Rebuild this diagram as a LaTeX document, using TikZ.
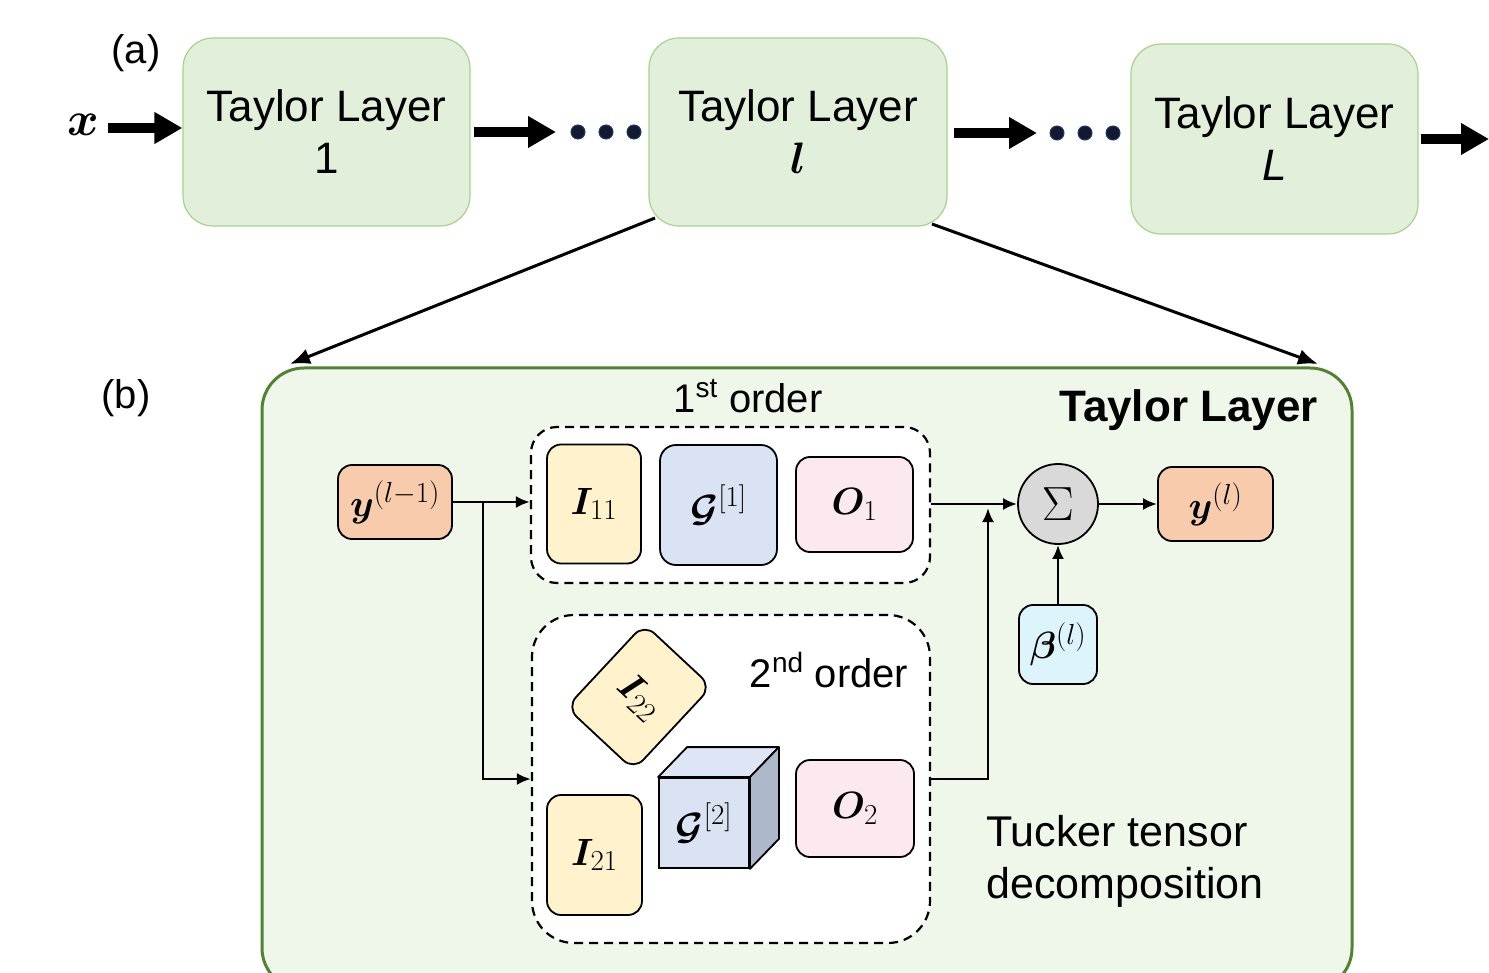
\RequirePackage{fix-cm}
\documentclass[tikz,border=0pt]{standalone}
\usepackage{amsmath,bm}
\usepackage[no-math]{fontspec}
\setmainfont{Liberation Sans}
\usetikzlibrary{arrows.meta,calc}
\DeclareMathSizes{38}{38}{29}{22}
\DeclareMathSizes{44}{44}{32}{24}
\DeclareMathSizes{48}{48}{34}{26}
\definecolor{topfill}{RGB}{226,239,218}
\definecolor{topdraw}{RGB}{169,209,142}
\definecolor{bigfill}{RGB}{239,246,234}
\definecolor{bigdraw}{RGB}{84,130,53}
\definecolor{yel}{RGB}{255,242,204}
\definecolor{blu}{RGB}{218,227,243}
\definecolor{bluside}{RGB}{173,185,202}
\definecolor{blutop}{RGB}{222,230,245}
\definecolor{pnk}{RGB}{252,232,239}
\definecolor{org}{RGB}{248,203,173}
\definecolor{cyn}{RGB}{222,244,252}
\definecolor{gry}{RGB}{217,217,217}
\definecolor{dotc}{RGB}{20,25,50}
\definecolor{dotd}{RGB}{31,56,100}
\begin{document}
\begin{tikzpicture}[x=1pt,y=-1pt,
  topbox/.style={draw=topdraw, line width=1.2pt, fill=topfill, rounded corners=30pt,
    align=center, font=\fontsize{44}{52}\selectfont, inner sep=0pt},
  bigbox/.style={draw=bigdraw, line width=3pt, fill=bigfill, rounded corners=42pt, inner sep=0pt},
  dashbox/.style={draw=black, dashed, dash pattern=on 9pt off 6pt, line width=2.2pt, fill=white, inner sep=0pt},
  blk/.style={draw=black, line width=1.8pt, rounded corners=14pt, inner sep=0pt,
    font=\fontsize{38}{44}\selectfont},
  lbl/.style={inner sep=0pt, font=\fontsize{40}{48}\selectfont},
  bigarrow/.style={line width=10pt, -{Triangle[length=28pt,width=30pt]}},
  diagarrow/.style={line width=3pt, -{Latex[length=20pt,width=16pt]}},
  connarrow/.style={line width=2.6pt, -{Latex[length=14pt,width=12pt]}},
  dotstyle/.style={fill=dotc, draw=dotd, line width=1pt}
]
\useasboundingbox (0,0) rectangle (1489,973);
\clip (0,0) rectangle (1489,973);

% ---------- (a) ----------
\node[lbl] (la) at (136,53) {(a)};
\node[inner sep=0pt, font=\fontsize{48}{54}\selectfont] (xin) at (83,125) {$\bm{x}$};

\node[topbox, minimum width=287pt, minimum height=188pt] (t1) at (326.5,132) {Taylor Layer\\1};
\node[topbox, minimum width=298pt, minimum height=188pt] (tl) at (798,132) {Taylor Layer\\$\bm{l}$};
\node[topbox, minimum width=287pt, minimum height=190pt] (tL) at (1274.5,139) {Taylor Layer\\\textit{L}};

\coordinate (xs) at (108,128);
\coordinate (d1) at (606,132);
\coordinate (d2) at (1085,133);
\coordinate (outL) at (1489,139);

\draw[bigarrow] (xs) -- (xs -| t1.west);
\draw[bigarrow] ([xshift=3pt]t1.east |- d1) -- ([xshift=-50pt]d1);
\draw[bigarrow] ([xshift=6pt]tl.east |- d2) -- ([xshift=-48pt]d2);
\draw[bigarrow] ([xshift=2pt]tL.east) -- (outL);
\foreach \dx in {-28,0,28} {
  \fill[dotstyle] ($(d1)+(\dx,0)$) circle (7pt);
  \fill[dotstyle] ($(d2)+(\dx,0)$) circle (7pt);
}

% ---------- (b) ----------
\node[lbl] (lb) at (126,398) {(b)};
\node[bigbox, minimum width=1090pt, minimum height=622pt] (big) at (807,679) {};

\coordinate (tlA) at (655,218);
\coordinate (tlB) at (932,224);
\coordinate (bigA) at (290,364);
\coordinate (bigB) at (1318,364);
\draw[diagarrow] (tlA) -- (bigA);
\draw[diagarrow] (tlB) -- (bigB);

\node[inner sep=0pt, anchor=east, font=\bfseries\fontsize{44}{52}\selectfont] (title) at (1318,410) {Taylor Layer};

\node[dashbox, rounded corners=26pt, minimum width=399pt, minimum height=156pt] (ob1) at (730.5,505) {};
\node[dashbox, rounded corners=42pt, minimum width=398pt, minimum height=328pt] (ob2) at (731,779) {};

\node[lbl] (o1t) at (748,396) {1\textsuperscript{st} order};
\node[lbl] (o2t) at (829,670) {2\textsuperscript{nd} order};

\node[blk, fill=yel, minimum width=94pt, minimum height=119pt] (I11) at (594,504) {$\bm{I}_{11}$};
\node[blk, fill=blu, rounded corners=16pt, minimum width=117pt, minimum height=120pt] (G1) at (718.5,505) {$\bm{\mathcal{G}}^{[1]}$};
\node[blk, fill=pnk, minimum width=117pt, minimum height=95pt] (O1) at (854.5,504.5) {$\bm{O}_1$};

\node[blk, fill=org, minimum width=114pt, minimum height=74pt] (yl1) at (395,502) {$\bm{y}^{(l-1)}$};
\node[blk, fill=org, minimum width=115pt, minimum height=74pt] (yl) at (1215.5,504) {$\bm{y}^{(l)}$};
\node[blk, fill=cyn, minimum width=78pt, minimum height=79pt] (beta) at (1058,644.5) {$\bm{\beta}^{(l)}$};
\node[blk, circle, fill=gry, minimum size=80pt, font=\fontsize{48}{54}\selectfont] (sig) at (1058,504) {$\Sigma$};

\node[blk, fill=yel, minimum width=95pt, minimum height=120pt] (I21) at (594.5,855) {$\bm{I}_{21}$};
\node[blk, fill=yel, rotate=-43, minimum width=92pt, minimum height=114pt] (I22) at (639,697) {$\bm{I}_{22}$};
\node[blk, fill=pnk, minimum width=118pt, minimum height=97pt] (O2) at (855,808.5) {$\bm{O}_2$};

% cube
\node[blk, rounded corners=0pt, fill=blu, minimum width=90pt, minimum height=90pt] (G2) at (704,823) {$\bm{\mathcal{G}}^{[2]}$};
\filldraw[fill=blutop, draw=black, line width=1.8pt, line join=round]
  (G2.north west) -- ($(G2.north west)+(29,-30)$) -- ($(G2.north east)+(29,-30)$) -- (G2.north east) -- cycle;
\filldraw[fill=bluside, draw=black, line width=1.8pt, line join=round]
  (G2.north east) -- ($(G2.north east)+(29,-30)$) -- ($(G2.south east)+(29,-30)$) -- (G2.south east) -- cycle;

% connectors
\coordinate (j) at (483,502);
\coordinate (m) at (988,508);
\draw[connarrow] (yl1.east) -- (yl1.east -| ob1.west);
\draw[connarrow] (j) |- (ob2.west);
\draw[connarrow] (ob1.east |- sig.west) -- (sig.west);
\draw[connarrow] (ob2.east) -| (m);
\draw[connarrow] (sig.east) -- (yl.west);
\draw[connarrow] (beta.north) -- (sig.south);

\node[lbl, anchor=west, align=left, font=\fontsize{43}{52}\selectfont] (tucker) at (986,861) {Tucker tensor\\decomposition};
\end{tikzpicture}
\end{document}
